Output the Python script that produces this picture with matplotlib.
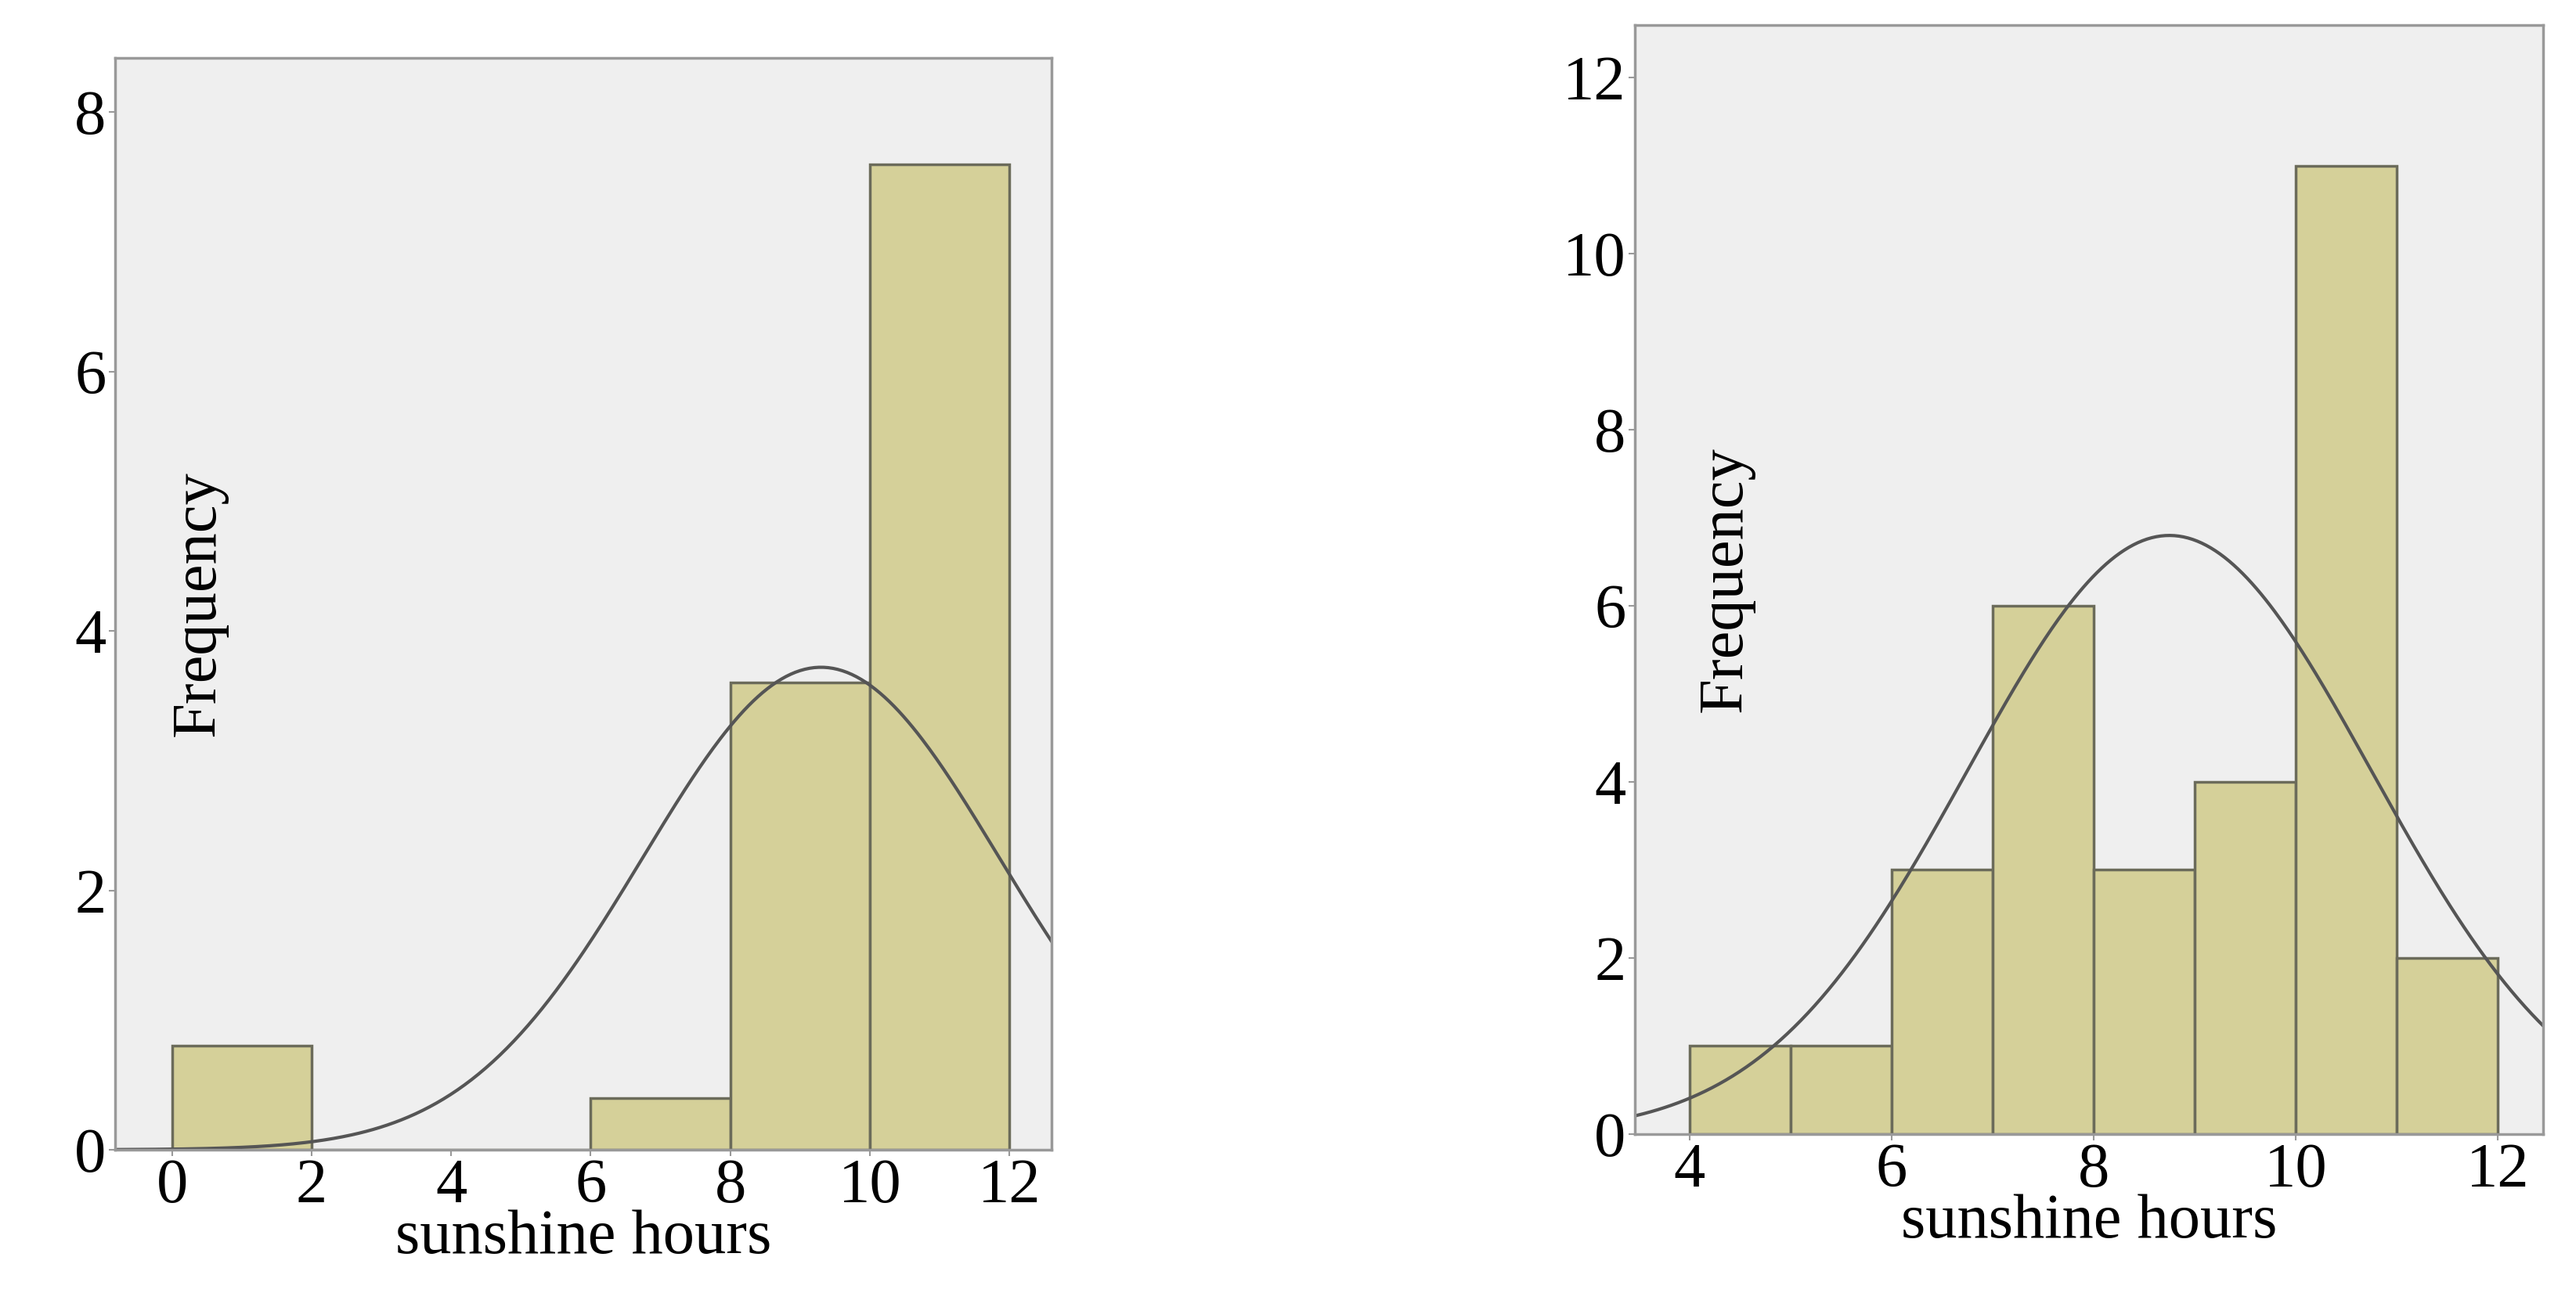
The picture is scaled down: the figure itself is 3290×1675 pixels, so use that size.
import matplotlib.pyplot as plt
import numpy as np

plt.rcParams['font.family'] = ['Liberation Serif', 'DejaVu Serif']

# left histogram
left_edges = [0, 2, 4, 6, 8, 10]
left_counts = [0.8, 0, 0, 0.4, 3.6, 7.6]
left_mu, left_sigma, left_peak = 9.3, 2.55, 3.72

# right histogram
right_edges = [4, 5, 6, 7, 8, 9, 10, 11]
right_counts = [1, 1, 3, 6, 3, 4, 11, 2]
right_mu, right_sigma, right_peak = 8.75, 2.0, 6.8

bar_col = '#d5d099'
edge_col = '#6b6b5a'
bg = '#efefef'

fig = plt.figure(figsize=(32.9, 16.75), dpi=100)
ax1 = fig.add_axes([0.0446, 0.123, 0.3635, 0.833])
ax2 = fig.add_axes([0.6346, 0.135, 0.3527, 0.846])


def draw(ax, edges, counts, width, mu, sigma, peak, xlim, ylim, xticks, yticks, ylab_x):
    ax.set_facecolor(bg)
    ax.bar(edges, counts, width=width, align='edge', color=bar_col,
           edgecolor=edge_col, linewidth=2.5)
    xs = np.linspace(xlim[0], xlim[1], 400)
    ax.plot(xs, peak * np.exp(-(xs - mu) ** 2 / (2 * sigma ** 2)),
            color='#555555', linewidth=3)
    ax.set_xlim(*xlim)
    ax.set_ylim(*ylim)
    ax.set_xticks(xticks)
    ax.set_yticks(yticks)
    ax.tick_params(labelsize=58, length=6, width=1.5, color='#999999', pad=2)
    for s in ax.spines.values():
        s.set_color('#999999')
        s.set_linewidth(2.5)
    ax.set_xlabel('sunshine hours', fontsize=58, labelpad=-6)
    ax.text(ylab_x, 0.5, 'Frequency', transform=ax.transAxes, rotation=90,
            ha='center', va='center', fontsize=58)


draw(ax1, left_edges, left_counts, 2, left_mu, left_sigma, left_peak,
     (-0.82, 12.6), (0, 8.42), [0, 2, 4, 6, 8, 10, 12], [0, 2, 4, 6, 8], 0.09)
draw(ax2, right_edges, right_counts, 1, right_mu, right_sigma, right_peak,
     (3.46, 12.45), (0, 12.6), [4, 6, 8, 10, 12], [0, 2, 4, 6, 8, 10, 12], 0.1)

fig.savefig('out.png', dpi=100)
